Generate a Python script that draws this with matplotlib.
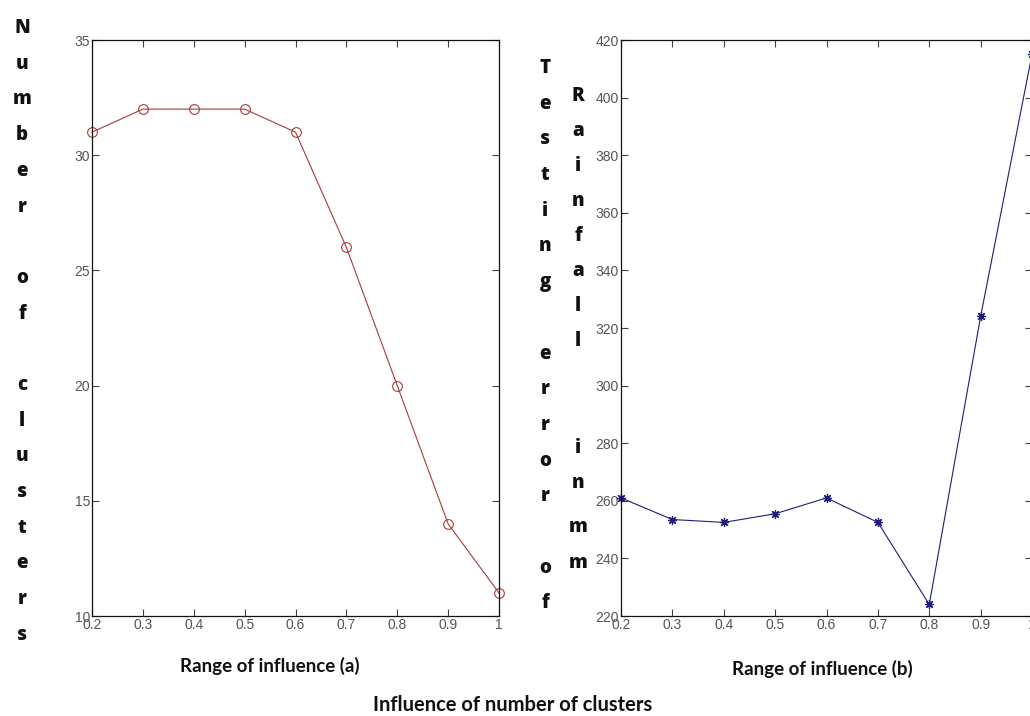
import matplotlib
matplotlib.use("Agg")
import matplotlib.pyplot as plt

# Range of influence values shared by both panels
radius = [0.2, 0.3, 0.4, 0.5, 0.6, 0.7, 0.8, 0.9, 1.0]
# (a) number of clusters produced for each range of influence
n_clusters = [31, 32, 32, 32, 31, 26, 20, 14, 11]
# (b) testing error of rainfall (mm) for each range of influence
test_error = [261, 253.5, 252.5, 255.5, 261, 252.5, 224, 324, 415]

x_ticks = [0.2, 0.3, 0.4, 0.5, 0.6, 0.7, 0.8, 0.9, 1.0]
x_ticklabels = ["0.2", "0.3", "0.4", "0.5", "0.6", "0.7", "0.8", "0.9", "1"]
a_yticks = [10, 15, 20, 25, 30, 35]
b_yticks = [220, 240, 260, 280, 300, 320, 340, 360, 380, 400, 420]

W, H = 1030, 716
fig = plt.figure(figsize=(W / 100, H / 100), dpi=100)
fig.patch.set_facecolor("white")

tick_font = dict(family=["Liberation Sans Narrow", "Liberation Sans"],
                 size=10, color="#555555")
label_font = dict(family="Lato", weight="bold", color="#111111")
stack_font = dict(family="Open Sans", weight="heavy", size=13.5,
                  color="#111111")


def style_axes(ax, yticks):
    ax.set_xlim(0.2, 1.0)
    ax.set_xticks(x_ticks)
    ax.set_xticklabels(x_ticklabels, **tick_font)
    ax.set_yticks(yticks)
    ax.set_yticklabels([str(v) for v in yticks], **tick_font)
    ax.tick_params(direction="in", length=5, width=0.8, color="#444444",
                   top=True, right=True, pad=1.5)
    for s in ax.spines.values():
        s.set_linewidth(0.9)
        s.set_color("#111111")


def px_axes(x0, y0, x1, y1):
    return fig.add_axes([x0 / W, 1 - y1 / H, (x1 - x0) / W, (y1 - y0) / H])


ax1 = px_axes(92, 40, 499, 616)
ax1.plot(radius, n_clusters, color="#a83a3a", lw=0.8, marker="o",
         markersize=7, markerfacecolor="none", markeredgecolor="#a83a3a",
         markeredgewidth=0.8, clip_on=False)
ax1.set_ylim(10, 35)
style_axes(ax1, a_yticks)

ax2 = px_axes(621, 40, 1032, 616)
ax2.plot(radius, test_error, color="#1e1e78", lw=0.8, marker=(8, 2, 0),
         markersize=6.5, markeredgecolor="#1e1e78", markeredgewidth=0.9,
         clip_on=False)
ax2.set_ylim(220, 420)
style_axes(ax2, b_yticks)


def stacked(text, x, y_top, step=35.7):
    """Write a word one letter per line, spaces leaving an empty line."""
    for i, ch in enumerate(text):
        if ch != " ":
            fig.text(x / W, 1 - (y_top + i * step) / H, ch, ha="center",
                     va="center", **stack_font)


stacked("Number of clusters", 22, 28)
stacked("Testing error of", 545, 68)
stacked("Rainfall", 578, 96, step=35)
stacked("in", 578, 448, step=35)
stacked("mm", 578, 527, step=36)

fig.text(270 / W, 1 - 666 / H, "Range of influence (a)", ha="center",
         va="center", size=13.5, **label_font)
fig.text(822 / W, 1 - 669 / H, "Range of influence (b)", ha="center",
         va="center", size=13.5, **label_font)
fig.text(513 / W, 1 - 705 / H, "Influence of number of clusters",
         ha="center", va="center", size=14.5, **label_font)

fig.savefig("out.png", dpi=100, facecolor="white")
